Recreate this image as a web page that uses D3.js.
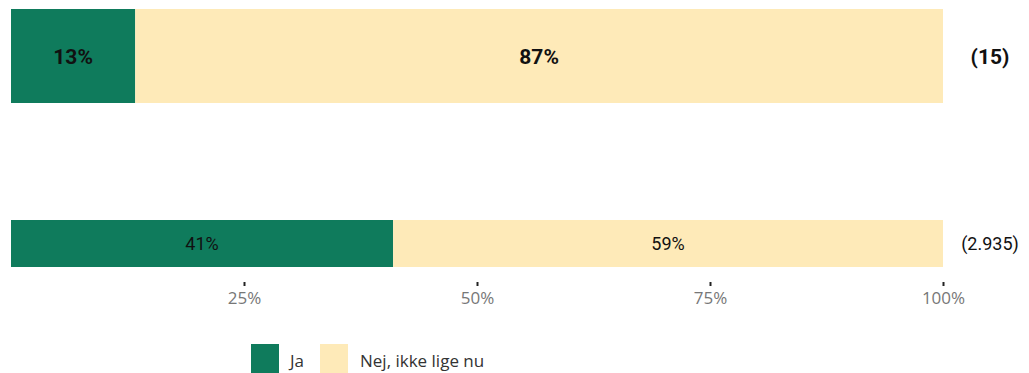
<!DOCTYPE html>
<html><head><meta charset="utf-8">
<script src="https://cdn.jsdelivr.net/npm/d3@7"></script>
<style>
html,body{margin:0;padding:0;background:#fff;overflow:hidden;}
svg{display:block;}
</style></head>
<body>
<svg id="chart" width="1029" height="373"></svg>
<script>
const rows = ["A", "B"];
const seriesNames = ["Ja", "Nej, ikke lige nu"];
const jaValues = [13.33, 41];
const nejValues = [86.67, 59];
const barLabels = [["13%", "87%"], ["41%", "59%"]];
const counts = ["(15)", "(2.935)"];
const boldRow = [true, false];
const tickValues = [25, 50, 75, 100];
const colors = ["#0f7b5c", "#feeab8"];

const svg = d3.select("#chart");
const x = d3.scaleLinear().domain([0, 100]).range([11, 943]);
const rowTop = [9, 220];
const rowH = [94, 47];

rows.forEach((r, i) => {
  const vals = [jaValues[i], nejValues[i]];
  let cum = 0;
  vals.forEach((v, j) => {
    svg.append("rect")
      .attr("x", x(cum)).attr("y", rowTop[i])
      .attr("width", x(cum + v) - x(cum)).attr("height", rowH[i])
      .attr("fill", colors[j]);
    svg.append("text")
      .attr("x", (x(cum) + x(cum + v)) / 2)
      .attr("y", rowTop[i] + rowH[i] / 2)
      .attr("dy", "0.36em")
      .attr("text-anchor", "middle")
      .attr("font-family", "Roboto")
      .attr("font-size", boldRow[i] ? 21 : 18)
      .attr("font-weight", boldRow[i] ? "bold" : "normal")
      .attr("fill", "#111")
      .text(barLabels[i][j]);
    cum += v;
  });
  svg.append("text")
    .attr("x", 990)
    .attr("y", rowTop[i] + rowH[i] / 2)
    .attr("dy", "0.36em")
    .attr("text-anchor", "middle")
    .attr("font-family", "Roboto")
    .attr("font-size", boldRow[i] ? 21 : 18)
    .attr("font-weight", boldRow[i] ? "bold" : "normal")
    .attr("fill", "#111")
    .text(counts[i]);
});

const axis = d3.axisBottom(x).tickValues(tickValues).tickFormat(d => d + "%").tickSize(4).tickPadding(6);
const g = svg.append("g").attr("transform", "translate(0,282)").call(axis);
g.select(".domain").remove();
g.selectAll(".tick line").attr("stroke", "#222").attr("stroke-width", 2);
g.selectAll(".tick text").attr("font-family", "Open Sans").attr("font-size", 17).attr("fill", "#777");

const legX = [251, 320];
const legTextX = [290, 360];
seriesNames.forEach((n, j) => {
  svg.append("rect").attr("x", legX[j]).attr("y", 344).attr("width", 28).attr("height", 32).attr("fill", colors[j]);
  svg.append("text").attr("x", legTextX[j]).attr("y", 367)
    .attr("font-family", "Open Sans").attr("font-size", 17).attr("fill", "#333").text(n);
});
</script>
</body></html>
